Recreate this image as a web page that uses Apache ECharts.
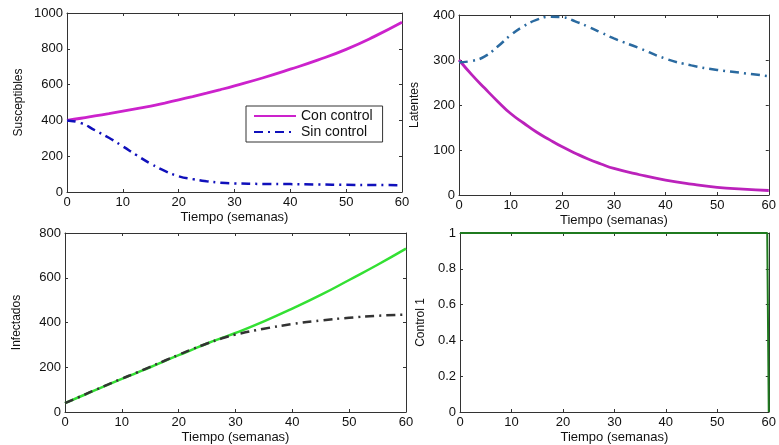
<!DOCTYPE html>
<html>
<head>
<meta charset="utf-8">
<script src="https://cdn.jsdelivr.net/npm/echarts@6/dist/echarts.min.js"></script>
<style>html,body{margin:0;padding:0;background:#fff}#c{width:779px;height:445px}</style>
</head>
<body>
<div id="c"></div>
<script>
// ---- data ----
const weeks = [0, 2.5, 5, 7.5, 10, 12.5, 15, 17.5, 20, 22.5, 25, 27.5, 30, 35, 40, 45, 50, 55, 60];
const suscCon = [400, 412, 425, 438, 452, 466, 480, 497, 515, 533, 552, 572, 593, 637, 686, 738, 797, 868, 948];
const suscSin = [400, 385, 345, 303, 255, 205, 158, 118, 88, 72, 60, 52, 48, 45, 44, 42, 40, 39, 38];
const latCon = [300, 267, 237, 208, 181, 160, 140, 123, 107, 93, 80, 69, 59, 45, 33, 24, 17, 13, 10];
const latSin = [295, 298, 308, 330, 355, 375, 389, 396, 395, 386, 374, 361, 348, 326, 303, 288, 278, 271, 264];
const infCon = [40, 67, 94, 121, 148, 174, 200, 227, 254, 280, 306, 330, 353, 405, 462, 523, 590, 658, 730];
const infSin = [40, 67, 95, 122, 149, 175, 202, 229, 256, 282, 306, 328, 346, 372, 393, 409, 421, 430, 435];
const ctrlT = [0, 59.7, 60];
const ctrlU = [1, 1, 0];
const yNames = ['Susceptibles', 'Latentes', 'Infectados', 'Control 1'];
const legendNames = ['Con control', 'Sin control'];

const pair = (xs, ys) => xs.map((x, i) => [x, ys[i]]);

const grids = [
  {left: 67, top: 13, width: 335, height: 179},
  {left: 459, top: 15, width: 315, height: 180},
  {left: 65, top: 233, width: 341, height: 179},
  {left: 460, top: 233, width: 317, height: 180}
];
const yRanges = [
  {max: 1000, interval: 200},
  {max: 400, interval: 100},
  {max: 800, interval: 200},
  {max: 1, interval: 0.2}
];
const font = 'Liberation Sans, Arial, sans-serif';
const lineCol = '#333';
const fmt = v => String(Math.round(v * 10) / 10);

const xAxes = [], yAxes = [];
grids.forEach((g, i) => {
  const common = {
    axisLine: {show: true, onZero: false, lineStyle: {color: lineCol, width: 1}},
    axisTick: {show: true, inside: true, length: 3, lineStyle: {color: lineCol}},
    splitLine: {show: false}
  };
  xAxes.push(Object.assign({
    type: 'value', gridIndex: i, min: 0, max: 60, interval: 10, position: 'bottom',
    name: 'Tiempo (semanas)', nameLocation: 'middle', nameGap: 19,
    nameTextStyle: {color: '#111', fontSize: 13, fontFamily: font},
    axisLabel: {color: '#111', fontSize: 13, fontFamily: font, margin: 4, formatter: fmt}
  }, common));
  xAxes.push(Object.assign({
    type: 'value', gridIndex: i, min: 0, max: 60, interval: 10, position: 'top',
    axisLabel: {show: false}
  }, common));
  yAxes.push(Object.assign({
    type: 'value', gridIndex: i, min: 0, max: yRanges[i].max, interval: yRanges[i].interval, position: 'left',
    name: yNames[i], nameLocation: 'middle', nameGap: i === 3 ? 33 : (i === 1 ? 38 : 42),
    nameTextStyle: {color: '#111', fontSize: 12, fontFamily: font},
    axisLabel: {color: '#111', fontSize: 13, fontFamily: font, margin: 4, formatter: fmt}
  }, common));
  yAxes.push(Object.assign({
    type: 'value', gridIndex: i, min: 0, max: yRanges[i].max, interval: yRanges[i].interval, position: 'right',
    axisLabel: {show: false}
  }, common));
});

const dashDot = [9, 5, 2, 5];
const mk = (name, gi, data, color, type, width) => ({
  name, type: 'line', xAxisIndex: gi * 2, yAxisIndex: gi * 2, data,
  symbol: 'none', showSymbol: false, smooth: true, animation: false,
  lineStyle: {color, width, type}, itemStyle: {color}
});

const series = [
  mk(legendNames[0], 0, pair(weeks, suscCon), '#cc22cc', 'solid', 2.8),
  mk(legendNames[1], 0, pair(weeks, suscSin), '#1010bb', dashDot, 2.5),
  mk('latCon', 1, pair(weeks, latCon), '#bb22bb', 'solid', 2.8),
  mk('latSin', 1, pair(weeks, latSin), '#2a6aa0', dashDot, 2.5),
  mk('infCon', 2, pair(weeks, infCon), '#33e033', 'solid', 2.5),
  mk('infSin', 2, pair(weeks, infSin), '#333333', dashDot, 2.5),
  Object.assign(mk('ctrl', 3, pair(ctrlT, ctrlU), '#1f7a1f', 'solid', 2), {smooth: false})
];

const chart = echarts.init(document.getElementById('c'), null, {renderer: 'canvas'});
chart.setOption({
  animation: false,
  backgroundColor: '#fff',
  grid: grids,
  xAxis: xAxes,
  yAxis: yAxes,
  legend: {
    show: true,
    data: legendNames, left: 246, top: 106, orient: 'vertical',
    backgroundColor: '#fff', borderColor: '#333', borderWidth: 1, borderRadius: 0,
    padding: [3, 10, 3, 7], itemGap: 2, itemWidth: 42, itemHeight: 13,
    itemStyle: {opacity: 0},
    textStyle: {color: '#111', fontSize: 14, fontFamily: font}
  },
  series
});
</script>
</body>
</html>
